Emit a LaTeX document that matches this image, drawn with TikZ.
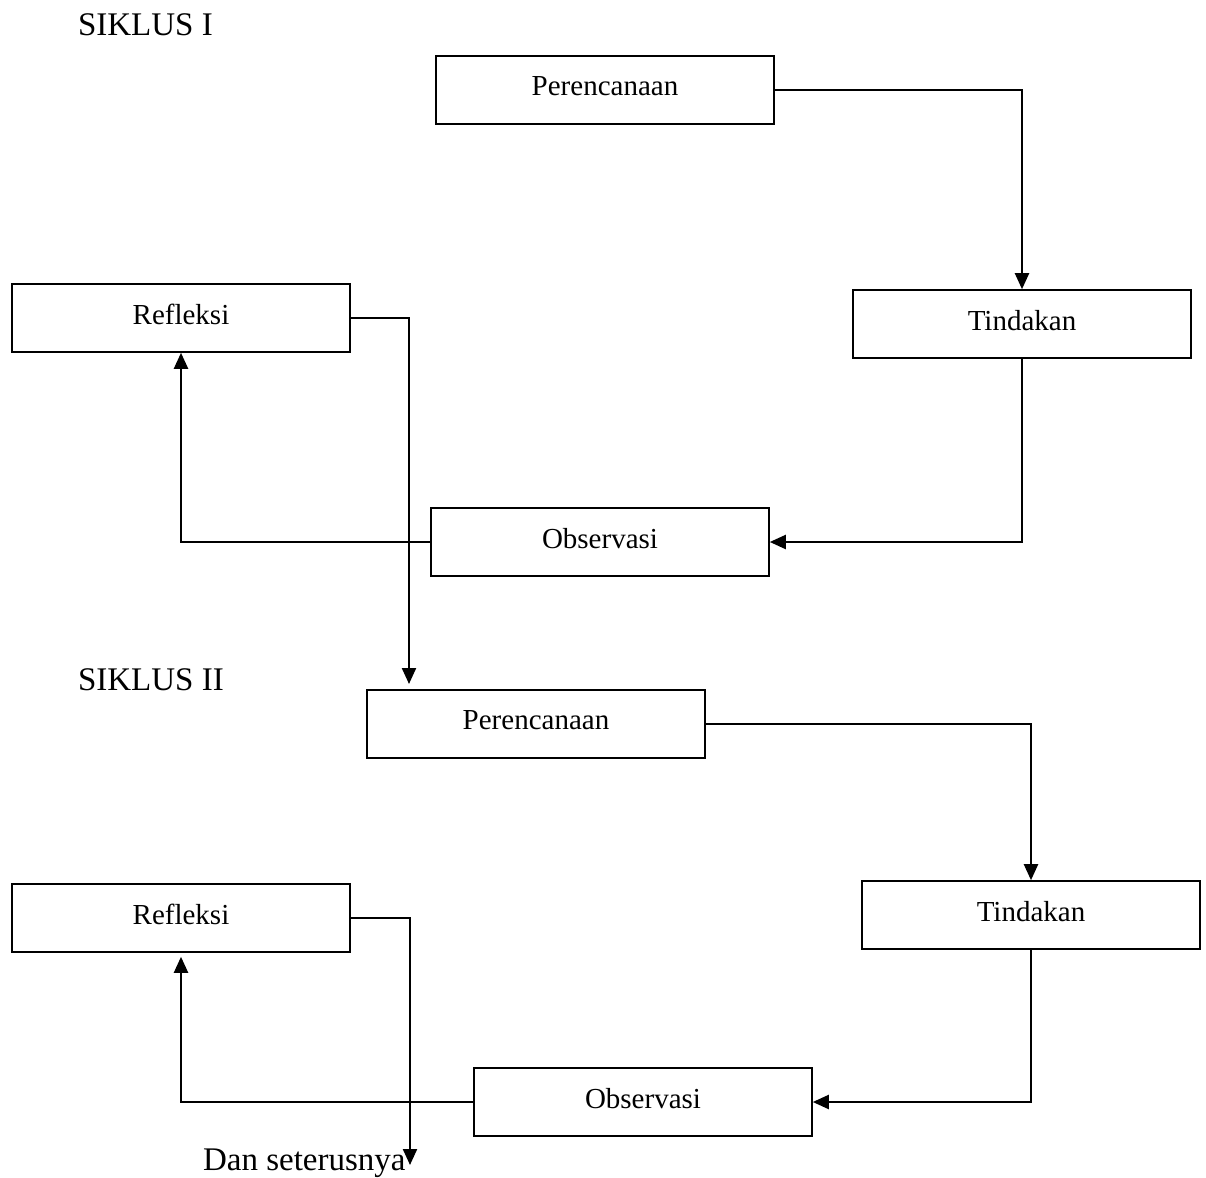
\documentclass[tikz,border=0pt]{standalone}
\usepackage{fontspec}
\setmainfont{Liberation Serif}
\usetikzlibrary{arrows.meta}

\tikzset{
  stage/.style={draw,line width=0.8pt,minimum width=169pt,minimum height=34pt,
    inner sep=0pt,text depth=4pt,font=\fontsize{14.5}{17}\selectfont},
  flow/.style={line width=1.1pt,-{Triangle[length=8pt,width=7pt]}},
  caption/.style={font=\fontsize{16.5}{19}\selectfont}
}

\begin{document}
\begin{tikzpicture}[x=0.5pt,y=-0.5pt]
  \useasboundingbox (0,0) rectangle (1206,1178);

  % Siklus I
  \node[caption,anchor=west] (sik1) at (71,25) {SIKLUS I};
  \node[stage] (per1) at (605,90)  {Perencanaan};
  \node[stage] (tin1) at (1022,324) {Tindakan};
  \node[stage] (ref1) at (181,318) {Refleksi};
  \node[stage] (obs1) at (600,542) {Observasi};

  \coordinate (lanjut1) at (409,684);

  \draw[flow] (per1.east) -| (tin1.north);
  \draw[flow] (tin1.south) |- (obs1.east);
  \draw[flow] (obs1.west) -| (ref1.south);
  \draw[flow] (ref1.east) -| (lanjut1);

  % Siklus II
  \node[caption,anchor=west] (sik2) at (71,680) {SIKLUS II};
  \node[stage] (per2) at (536,724)  {Perencanaan};
  \node[stage] (tin2) at (1031,915) {Tindakan};
  \node[stage] (ref2) at (181,918) {Refleksi};
  \node[stage] (obs2) at (643,1102) {Observasi};

  \coordinate (lanjut2) at (410,1165);

  \draw[flow] (per2.east) -| (tin2.north);
  \draw[flow] (tin2.south) |- (obs2.east);
  \draw[flow,shorten >=2pt] (obs2.west) -| (ref2.south);
  \draw[flow] (ref2.east) -| (lanjut2);

  \node[caption,anchor=east,inner sep=0pt] (dan) at (406,1163) {Dan seterusnya};
\end{tikzpicture}
\end{document}
